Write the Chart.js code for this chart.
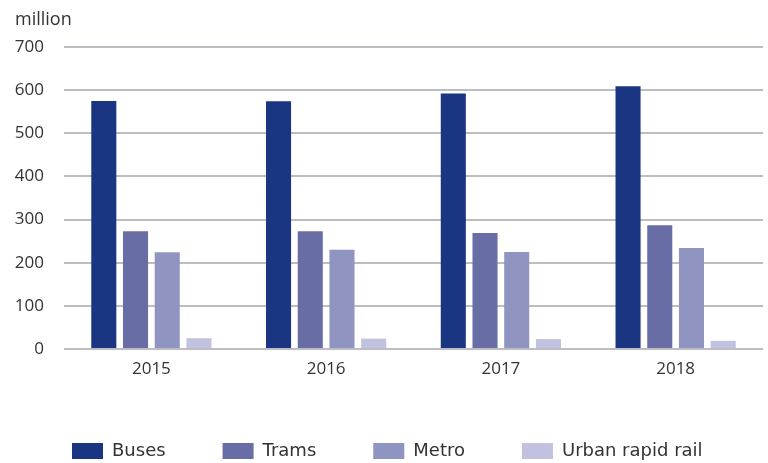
<!DOCTYPE html>
<html>
<head>
<meta charset="utf-8">
<script src="https://cdn.jsdelivr.net/npm/chart.js@4/dist/chart.umd.min.js"></script>
<style>
    html, body { margin: 0; padding: 0; background: #ffffff; }
    #wrap { width: 768px; height: 463px; }
</style>
</head>
<body>
<div id="wrap"><canvas id="passengersChart" width="768" height="463"></canvas></div>
<script>
    var years = ['2015', '2016', '2017', '2018'];
    var buses = [575, 574, 592, 609];
    var trams = [273, 273, 269, 287];
    var metro = [224, 230, 225, 234];
    var urbanRapidRail = [25, 24, 23, 19];
    var yTicks = [0, 100, 200, 300, 400, 500, 600, 700];

    var textColor = '#333333';
    var gridColor = '#bcbcc2';
    var tickFont = { family: "'Open Sans', sans-serif", size: 17 };

    var makeSet = function (label, data, color) {
        return {
            label: label,
            data: data,
            backgroundColor: color,
            borderWidth: 0,
            categoryPercentage: 0.726,
            barPercentage: 0.79
        };
    };

    var ctx = document.getElementById('passengersChart').getContext('2d');
    var chart = new Chart(ctx, {
        type: 'bar',
        data: {
            labels: years,
            datasets: [
                makeSet('Buses', buses, '#1a3682'),
                makeSet('Trams', trams, '#686ea5'),
                makeSet('Metro', metro, '#8f94c0'),
                makeSet('Urban rapid rail', urbanRapidRail, '#c0c2df')
            ]
        },
        options: {
            responsive: false,
            animation: false,
            events: [],
            layout: {
                padding: { top: 0, left: 15, right: 5, bottom: -7 }
            },
            plugins: {
                tooltip: { enabled: false },
                title: {
                    display: true,
                    text: 'million',
                    align: 'start',
                    color: textColor,
                    font: { family: "'Open Sans', sans-serif", size: 18, weight: 'normal' },
                    padding: { top: 9, bottom: 16.4 }
                },
                legend: {
                    position: 'bottom',
                    align: 'start',
                    labels: {
                        boxWidth: 31,
                        boxHeight: 16,
                        padding: 57,
                        color: textColor,
                        font: { family: "'DejaVu Sans', sans-serif", size: 18 }
                    }
                }
            },
            scales: {
                x: {
                    grid: { display: false },
                    border: { display: false },
                    ticks: {
                        color: textColor,
                        padding: 2,
                        font: tickFont
                    },
                    afterFit: function (axis) {
                        // leave room between year labels and legend
                        axis.height = 36;
                    }
                },
                y: {
                    min: 0,
                    max: 700,
                    afterBuildTicks: function (axis) {
                        axis.ticks = yTicks.map(function (v) { return { value: v }; });
                    },
                    afterFit: function (axis) {
                        axis.width = 49;
                    },
                    grid: { color: gridColor, lineWidth: 2, drawTicks: false },
                    border: { display: false },
                    ticks: {
                        color: textColor,
                        padding: 20,
                        font: tickFont
                    }
                }
            }
        }
    });
</script>
</body>
</html>
